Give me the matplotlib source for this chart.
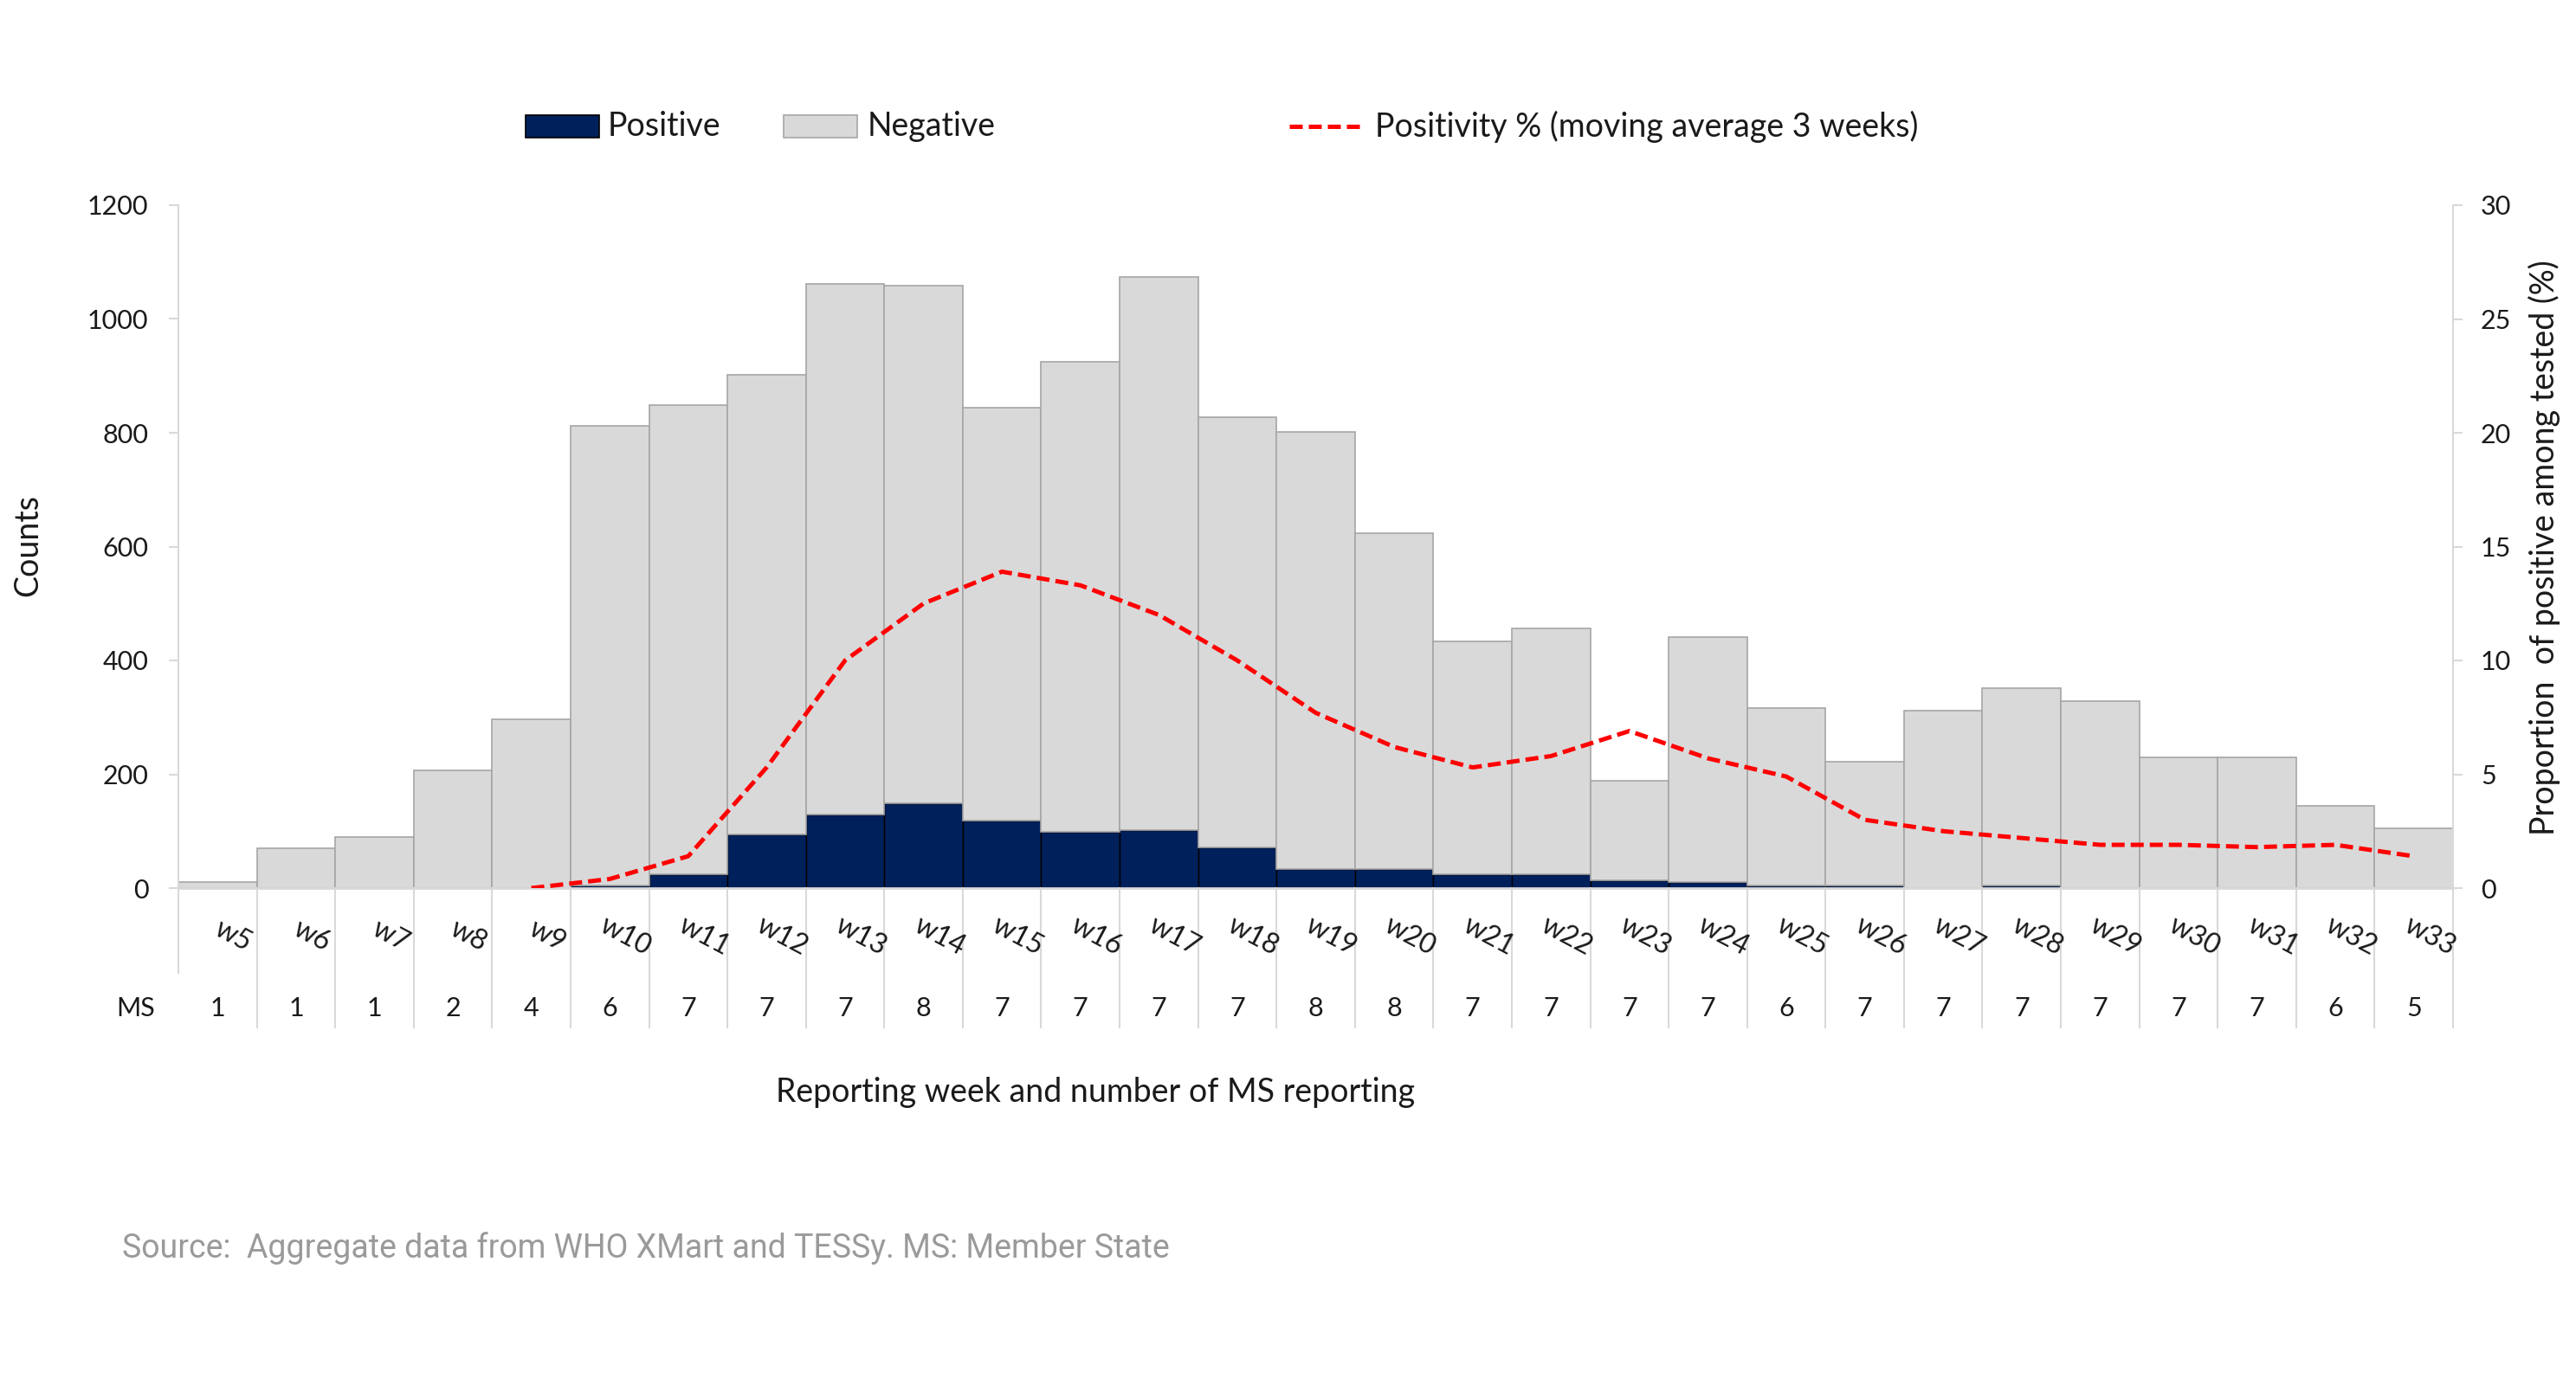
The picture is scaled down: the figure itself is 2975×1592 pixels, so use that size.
import numpy as np
import matplotlib
matplotlib.use('Agg')
import matplotlib.pyplot as plt
from matplotlib import transforms
from matplotlib.patches import Rectangle
from matplotlib.lines import Line2D

weeks = ['w5', 'w6', 'w7', 'w8', 'w9', 'w10', 'w11', 'w12', 'w13', 'w14', 'w15', 'w16',
         'w17', 'w18', 'w19', 'w20', 'w21', 'w22', 'w23', 'w24', 'w25', 'w26', 'w27',
         'w28', 'w29', 'w30', 'w31', 'w32', 'w33']
positive = [0, 0, 0, 0, 0, 4, 24, 95, 130, 149, 119, 99, 102, 72, 33, 33, 24, 24, 13,
            10, 5, 5, 0, 5, 0, 0, 0, 0, 0]
negative = [10, 70, 89, 207, 297, 808, 824, 807, 932, 909, 725, 826, 972, 755, 768, 591,
            409, 433, 175, 431, 311, 217, 312, 346, 328, 229, 229, 144, 105]
positivity = [np.nan, np.nan, np.nan, np.nan, 0.0, 0.4, 1.4, 5.3, 10.0, 12.5, 13.9, 13.3,
              12.0, 10.0, 7.7, 6.2, 5.3, 5.8, 6.9, 5.7, 4.9, 3.0, 2.5, 2.2, 1.9, 1.9,
              1.8, 1.9, 1.4]
ms_reporting = [1, 1, 1, 2, 4, 6, 7, 7, 7, 8, 7, 7, 7, 7, 8, 8, 7, 7, 7, 7, 6, 7, 7, 7,
                7, 7, 7, 6, 5]

NAVY = '#00205b'
GREY = '#d9d9d9'
EDGE = '#a6a6a6'
LINE = '#d9d9d9'
TXT = '#1a1a1a'
W, H = 2975, 1592

plt.rcParams['font.family'] = ['Lato', 'DejaVu Sans']

fig = plt.figure(figsize=(W / 100, H / 100), dpi=100)
ax = fig.add_axes([206 / W, 1 - 1026 / H, (2833 - 206) / W, (1026 - 237) / H])

x = np.arange(len(weeks))
pos_edges = ['#000000' if p > 0 else 'none' for p in positive]
ax.bar(x, positive, width=1, color=NAVY, edgecolor=pos_edges, linewidth=1.0, zorder=2)
ax.bar(x, negative, bottom=positive, width=1, color=GREY, edgecolor=EDGE,
       linewidth=1.2, zorder=2)

ax.set_xlim(-0.5, len(weeks) - 0.5)
ax.set_ylim(0, 1200)
ax.set_yticks(range(0, 1201, 200))
ax.set_xticks([])
for s in ['top', 'right', 'left']:
    ax.spines[s].set_visible(False)
ax.spines['bottom'].set_color(LINE)
ax.spines['bottom'].set_linewidth(2)
ax.tick_params(axis='y', length=8, width=1.5, color=LINE, pad=17, labelsize=22,
               labelcolor=TXT)

# secondary axis for the positivity line
ax2 = ax.twinx()
ax2.plot(x, positivity, color='#ff0000', lw=3.6, dashes=(3, 1.4), zorder=3)
ax2.set_ylim(0, 30)
ax2.set_yticks(range(0, 31, 5))
for s in ['top', 'left', 'bottom']:
    ax2.spines[s].set_visible(False)
ax2.spines['right'].set_color(LINE)
ax2.spines['right'].set_linewidth(1.5)
ax2.tick_params(axis='y', length=8, width=1.5, color=LINE, pad=15, labelsize=22,
                labelcolor=TXT)

# category table below the axis
blend = transforms.blended_transform_factory(ax.transData, ax.transAxes)
ax.plot([-0.5, -0.5], [1.0, -0.124], transform=blend, color=LINE, lw=1.5, clip_on=False)
for b in np.arange(0.5, len(weeks), 1.0):
    ax.plot([b, b], [0, -0.204], transform=blend, color=LINE, lw=1.5, clip_on=False)
for i, (wk, ms) in enumerate(zip(weeks, ms_reporting)):
    ax.text(i + 0.2, -0.07, wk, transform=blend, rotation=-28, ha='center', va='center',
            fontsize=23, color=TXT, rotation_mode='anchor')
    ax.text(i, -0.176, str(ms), transform=blend, ha='center', va='center',
            fontsize=22, color=TXT)
fig.text(157 / W, 1 - 1165 / H, 'MS', ha='center', va='center', fontsize=22, color=TXT)

fig.text(1265 / W, 1 - 1262 / H, 'Reporting week and number of MS reporting',
         ha='center', va='center', fontsize=27, color=TXT)
fig.text(32 / W, 1 - 630 / H, 'Counts', rotation=90, ha='center', va='center',
         fontsize=27, color=TXT)
fig.text(2938 / W, 1 - 633 / H, 'Proportion  of positive among tested (%)', rotation=90,
         ha='center', va='center', fontsize=27, color=TXT)

# legend
ly = 1 - 146 / H
fig.add_artist(Rectangle((607 / W, 1 - 159 / H), 85 / W, 26 / H, transform=fig.transFigure,
                         facecolor=NAVY, edgecolor='#000000', lw=1.2))
fig.text(702 / W, ly, 'Positive', ha='left', va='center', fontsize=27, color=TXT)
fig.add_artist(Rectangle((905 / W, 1 - 159 / H), 85 / W, 26 / H, transform=fig.transFigure,
                         facecolor=GREY, edgecolor=EDGE, lw=1.2))
fig.text(1002 / W, ly, 'Negative', ha='left', va='center', fontsize=27, color=TXT)
fig.add_artist(Line2D([1489 / W, 1575 / W], [ly, ly], transform=fig.transFigure,
                      color='#ff0000', lw=3.6, dashes=(3, 1.4)))
fig.text(1588 / W, ly, 'Positivity % (moving average 3 weeks)', ha='left', va='center',
         fontsize=27, color=TXT)

fig.text(141 / W, 1 - 1442 / H, 'Source:  Aggregate data from WHO XMart and TESSy. MS: Member State',
         ha='left', va='center', fontsize=27, color='#9a9a9a', family='Roboto')

fig.savefig('out.png', dpi=100, facecolor='white')
